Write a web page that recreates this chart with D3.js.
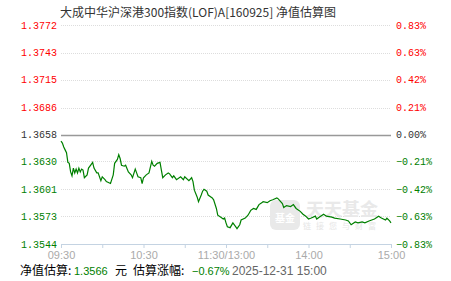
<!DOCTYPE html>
<html>
<head>
<meta charset="utf-8">
<script src="https://cdn.jsdelivr.net/npm/d3@7"></script>
<style>
  html, body { margin: 0; padding: 0; background: #fff; }
  svg { display: block; }
</style>
</head>
<body>
<div id="chart"></div>
<script>
// ---------- data ----------
const title = "大成中华沪深港300指数(LOF)A[160925] 净值估算图";
const navTicks = [1.3772, 1.3743, 1.3715, 1.3686, 1.3658, 1.3630, 1.3601, 1.3573, 1.3544];
const pctTicks = ["0.83%", "0.63%", "0.42%", "0.21%", "0.00%", "−0.21%", "−0.42%", "−0.63%", "−0.83%"];
const timeTicks = [0, 60, 120, 180, 240];
const timeLabels = ["09:30", "10:30", "11:30/13:00", "14:00", "15:00"];
const baseNav = 1.3658;

// minutes since 09:30 (lunch break removed) and estimated NAV
const minutes = [0, 1, 2, 3, 4, 5, 6, 7, 8, 9, 10, 11, 12, 13, 14, 15, 16, 17, 19, 20,
  22, 23, 24, 26, 27, 29, 30, 32, 33, 36, 38, 39, 41, 42, 43, 44, 46, 47, 49, 51,
  52, 54, 55, 56, 58, 59, 60, 62, 64, 66, 67, 68, 70, 72, 73, 74, 76, 78, 79, 81,
  82, 84, 87, 89, 90, 93, 95, 96, 97, 99, 100, 102, 103, 104, 106, 107, 110, 111, 113, 114,
  116, 118, 119, 120, 121, 123, 125, 127, 128, 130, 131, 134, 136, 138, 140, 142, 144, 146, 147, 150,
  152, 154, 157, 158, 161, 162, 164, 167, 169, 171, 174, 176, 178, 180, 182, 185, 186, 188, 191, 193,
  197, 199, 203, 207, 209, 211, 214, 216, 219, 221, 224, 226, 228, 231, 233, 236, 237, 239, 240];
const navs = [1.3651, 1.3649, 1.3645, 1.3642, 1.3639, 1.3629, 1.3628, 1.3619, 1.3615, 1.3623,
  1.3618, 1.3622, 1.3618, 1.3623, 1.3619, 1.3622, 1.3621, 1.3613, 1.3616, 1.3623,
  1.3627, 1.3629, 1.3623, 1.3618, 1.3618, 1.3610, 1.3614, 1.3611, 1.3609, 1.3607,
  1.3616, 1.3628, 1.3632, 1.3637, 1.3633, 1.3626, 1.3625, 1.3626, 1.3619, 1.3616,
  1.3613, 1.3622, 1.3618, 1.3614, 1.3613, 1.3607, 1.3613, 1.3616, 1.3618, 1.3630,
  1.3626, 1.3625, 1.3628, 1.3629, 1.3621, 1.3613, 1.3616, 1.3618, 1.3617, 1.3613,
  1.3615, 1.3611, 1.3614, 1.3611, 1.3614, 1.3610, 1.3613, 1.3609, 1.3600, 1.3593,
  1.3588, 1.3595, 1.3599, 1.3601, 1.3599, 1.3595, 1.3592, 1.3590, 1.3581, 1.3574,
  1.3572, 1.3570, 1.3571, 1.3566, 1.3562, 1.3561, 1.3566, 1.3562, 1.3560, 1.3564,
  1.3569, 1.3571, 1.3574, 1.3579, 1.3581, 1.3580, 1.3585, 1.3587, 1.3588, 1.3587,
  1.3589, 1.3590, 1.3592, 1.3591, 1.3586, 1.3582, 1.3584, 1.3583, 1.3585, 1.3581,
  1.3578, 1.3575, 1.3573, 1.3570, 1.3571, 1.3573, 1.3570, 1.3572, 1.3575, 1.3573,
  1.3572, 1.3571, 1.3570, 1.3569, 1.3568, 1.3564, 1.3567, 1.3566, 1.3567, 1.3566,
  1.3568, 1.3569, 1.3570, 1.3573, 1.3571, 1.3569, 1.3571, 1.3568, 1.3566];

const footer = [
  { text: "净值估算:", color: "#000", x: 20, font: "cjk" },
  { text: "1.3566", color: "#008000", x: 74, font: "num" },
  { text: "元", color: "#000", x: 115, font: "cjk" },
  { text: "估算涨幅:", color: "#000", x: 133, font: "cjk" },
  { text: "−0.67%", color: "#008000", x: 192, font: "num" },
  { text: "2025-12-31 15:00", color: "#666", x: 232, font: "sans" }
];

// ---------- layout ----------
const W = 451, H = 281;
const plot = { left: 61, right: 391, top: 25, bottom: 244 };
const RED = "#ff0000", GREEN = "#008000";
const monoFont = "'Liberation Mono', 'DejaVu Sans Mono', monospace";
const sansFont = "'Liberation Sans', Arial, sans-serif";
const cjkFont = "'Noto Sans CJK SC', 'Liberation Sans', sans-serif";
const fonts = { num: sansFont, sans: sansFont, cjk: cjkFont };

const svg = d3.select("#chart").append("svg")
  .attr("width", W).attr("height", H);

const x = d3.scaleLinear().domain([0, 240]).range([plot.left, plot.right]);
const y = d3.scaleLinear()
  .domain([navTicks[navTicks.length - 1], navTicks[0]])
  .range([plot.bottom, plot.top]);

// title
svg.append("text")
  .attr("x", 198).attr("y", 17)
  .attr("text-anchor", "middle")
  .attr("font-family", cjkFont)
  .attr("font-size", 12)
  .attr("fill", "#333")
  .text(title);

// grid lines
svg.append("g")
  .selectAll("line")
  .data(navTicks.slice(0, -1))
  .join("line")
  .attr("x1", plot.left).attr("x2", plot.right)
  .attr("y1", d => Math.round(y(d)) + 0.5)
  .attr("y2", d => Math.round(y(d)) + 0.5)
  .attr("stroke", d => d === baseNav ? "#999" : "#ddd")
  .attr("stroke-width", d => d === baseNav ? 1.5 : 1)
  .attr("stroke-dasharray", d => d === baseNav ? null : "1,1");

const labelColor = (i) => i < 4 ? RED : i === 4 ? "#333" : GREEN;

// left axis labels
svg.append("g")
  .selectAll("text")
  .data(navTicks)
  .join("text")
  .attr("x", 57)
  .attr("y", d => y(d))
  .attr("dy", "0.36em")
  .attr("text-anchor", "end")
  .attr("font-family", monoFont)
  .attr("font-size", 10)
  .attr("fill", (d, i) => labelColor(i))
  .text(d => d.toFixed(4));

// right axis labels
svg.append("g")
  .selectAll("text")
  .data(pctTicks)
  .join("text")
  .attr("x", 396)
  .attr("y", (d, i) => y(navTicks[i]))
  .attr("dy", "0.36em")
  .attr("font-family", monoFont)
  .attr("font-size", 10)
  .attr("fill", (d, i) => labelColor(i))
  .text(d => d);

// bottom axis
const xAxis = svg.append("g")
  .attr("transform", `translate(0,${plot.bottom})`)
  .call(d3.axisBottom(x)
    .tickValues(d3.range(0, 241, 30))
    .tickSize(4)
    .tickFormat(d => {
      const i = timeTicks.indexOf(d);
      return i >= 0 ? timeLabels[i] : "";
    }));
xAxis.select(".domain").attr("stroke", "#c4d3e2").attr("d", `M${plot.left},0.5H${plot.right}`);
xAxis.selectAll(".tick line").attr("stroke", "#c4d3e2");
xAxis.selectAll(".tick text")
  .filter(d => timeTicks.indexOf(d) < 0)
  .remove();
xAxis.selectAll(".tick text")
  .attr("font-family", sansFont)
  .attr("font-size", 11)
  .attr("fill", "#aaa")
  .attr("dy", "0.7em");

// watermark
const wm = svg.append("g");
wm.append("rect")
  .attr("x", 270).attr("y", 200).attr("width", 30).attr("height", 30)
  .attr("rx", 6).attr("fill", "#e9e9e9");
wm.append("text")
  .attr("x", 285).attr("y", 222)
  .attr("text-anchor", "middle")
  .attr("font-family", cjkFont).attr("font-size", 10).attr("font-weight", "bold")
  .attr("fill", "#fff").text("基金");
wm.append("text")
  .attr("x", 342).attr("y", 216)
  .attr("text-anchor", "middle")
  .attr("font-family", cjkFont).attr("font-size", 18).attr("font-weight", "bold")
  .attr("fill", "#e9e9e9").text("天天基金");
wm.append("text")
  .attr("x", 342).attr("y", 229)
  .attr("text-anchor", "middle")
  .attr("font-family", cjkFont).attr("font-size", 8)
  .attr("letter-spacing", 5)
  .attr("fill", "#e6e6e6").text("链接您与财富");

// NAV line
const series = minutes.map((m, i) => ({ m, v: navs[i] }));
svg.append("path")
  .datum(series)
  .attr("fill", "none")
  .attr("stroke", GREEN)
  .attr("stroke-width", 1.2)
  .attr("d", d3.line().x(d => x(d.m)).y(d => y(d.v)));

// footer
svg.append("g")
  .selectAll("text")
  .data(footer)
  .join("text")
  .attr("x", d => d.x)
  .attr("y", 275)
  .attr("font-size", d => d.font === "num" ? 11 : 12)
  .attr("font-family", d => fonts[d.font])
  .attr("fill", d => d.color)
  .text(d => d.text);
</script>
</body>
</html>
